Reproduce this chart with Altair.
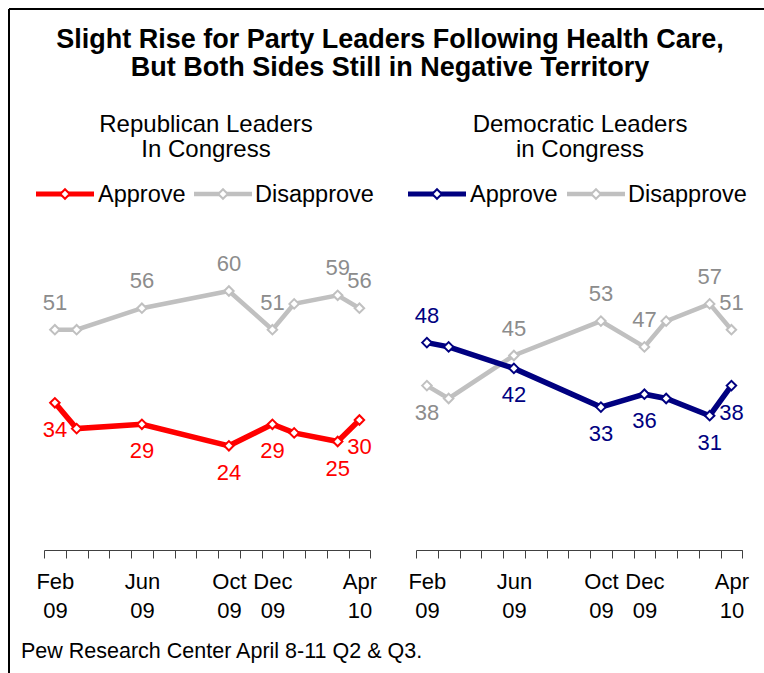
import altair as alt
import pandas as pd

# Survey waves, counted in months from February 2009
survey_month = [0, 1, 4, 8, 10, 11, 13, 14]
# Waves whose values are printed beside the markers
labeled_wave = [True, False, True, True, True, False, True, True]

rep_approve = [34, 28, 29, 24, 29, 27, 25, 30]
rep_disapprove = [51, 51, 56, 60, 51, 57, 59, 56]
dem_approve = [48, 47, 42, 33, 36, 35, 31, 38]
dem_disapprove = [38, 35, 45, 53, 47, 53, 57, 51]

series_names = ["Approve", "Disapprove"]
panel_keys = ["rep", "dem"]
panel_headings = [["Republican Leaders", "In Congress"],
                  ["Democratic Leaders", "in Congress"]]

tick_months = [0, 4, 8, 10, 14]
tick_month_names = ["Feb", "Jun", "Oct", "Dec", "Apr"]
tick_years = ["09", "09", "09", "09", "10"]
month_count = 15

title_lines = ["Slight Rise for Party Leaders Following Health Care,",
               "But Both Sides Still in Negative Territory"]
source_note = "Pew Research Center April 8-11 Q2 & Q3."

# ---------------------------------------------------------------- data table
series_values = {
    ("rep", "Approve"): rep_approve,
    ("rep", "Disapprove"): rep_disapprove,
    ("dem", "Approve"): dem_approve,
    ("dem", "Disapprove"): dem_disapprove,
}
rows = []
for p in panel_keys:
    appr = series_values[(p, "Approve")]
    disp = series_values[(p, "Disapprove")]
    for i, m in enumerate(survey_month):
        for s, v, other in (("Approve", appr[i], disp[i]),
                            ("Disapprove", disp[i], appr[i])):
            rows.append(dict(panel=p, series=s, key=f"{p}-{s}", month=m,
                             value=v, labeled=labeled_wave[i],
                             side="above" if v > other else "below"))
df = pd.DataFrame(rows)

# ---------------------------------------------------------------- styling
FONT = "Liberation Sans"
RED = "#ff0000"
NAVY = "#000080"
LINE_GRAY = "#c0c0c0"
LABEL_GRAY = "#8c8c8c"
AXIS_GRAY = "#404040"

key_domain = ["rep-Approve", "rep-Disapprove", "dem-Approve", "dem-Disapprove"]
line_scale = alt.Scale(domain=key_domain, range=[RED, LINE_GRAY, NAVY, LINE_GRAY])
text_scale = alt.Scale(domain=key_domain, range=[RED, LABEL_GRAY, NAVY, LABEL_GRAY])

panel_ranges = {"rep": [44, 370.3], "dem": [416, 742.3]}
edges = [k - 0.5 for k in range(month_count + 1)]

label_expr = " : ".join(
    f"datum.value == {m - 0.5} ? ['{n}', '{y}']"
    for m, n, y in zip(tick_months, tick_month_names, tick_years)
) + " : ''"

y_scale = alt.Scale(domain=[0, 70], range=[549, 248], nice=False, zero=False)
MARKER_SIZE = 90


def panel(key):
    rng = panel_ranges[key]
    slot = (rng[1] - rng[0]) / month_count
    x = alt.X(
        "month:Q",
        scale=alt.Scale(domain=[-0.5, month_count - 0.5], range=rng,
                        nice=False, zero=False),
        axis=alt.Axis(orient="bottom", values=edges, labelExpr=label_expr,
                      labelOffset=slot / 2, labelFont=FONT, labelFontSize=22,
                      labelColor="black", labelLineHeight=29, labelPadding=13,
                      labelOverlap=False, labelFlush=False, labelBound=False,
                      tickSize=8, tickColor=AXIS_GRAY, tickWidth=1,
                      domainColor=AXIS_GRAY, domainWidth=1, grid=False,
                      offset=-123, title=None),
    )
    y = alt.Y("value:Q", scale=y_scale, axis=None)
    base = alt.Chart(df[df.panel == key]).encode(x=x, y=y)

    layers = []
    for s, width in (("Disapprove", 4.5), ("Approve", 5.5)):
        layers.append(
            base.transform_filter(alt.datum.series == s)
            .mark_line(strokeWidth=width)
            .encode(stroke=alt.Stroke("key:N", scale=line_scale, legend=None))
        )
    layers.append(
        base.mark_point(shape="diamond", filled=True, fill="white",
                        size=MARKER_SIZE, strokeWidth=2, opacity=1)
        .encode(stroke=alt.Stroke("key:N", scale=line_scale, legend=None))
    )
    for side, dy in (("above", -20), ("below", 34)):
        layers.append(
            base.transform_filter(f"datum.labeled && datum.side == '{side}'")
            .mark_text(font=FONT, fontSize=22, baseline="alphabetic", dy=dy)
            .encode(text="value:Q",
                    color=alt.Color("key:N", scale=text_scale, legend=None))
        )
    return alt.layer(*layers)


one_row = pd.DataFrame({"k": [0]})


def note(text, x, y, size, align="center", weight="normal"):
    return alt.Chart(one_row).mark_text(
        font=FONT, fontSize=size, align=align, baseline="alphabetic",
        fontWeight=weight, color="black"
    ).encode(x=alt.value(x), y=alt.value(y), text=alt.value(text))


def legend_key(x0, x1, y, color, width):
    line = alt.Chart(one_row).mark_rule(color=color, strokeWidth=width).encode(
        x=alt.value(x0), x2=alt.value(x1), y=alt.value(y))
    mark = alt.Chart(one_row).mark_point(
        shape="diamond", filled=True, fill="white", stroke=color,
        size=MARKER_SIZE, strokeWidth=2, opacity=1
    ).encode(x=alt.value((x0 + x1) / 2), y=alt.value(y))
    return [line, mark]


annotations = [
    # frame
    alt.Chart(one_row).mark_rule(color="black", strokeWidth=2).encode(
        x=alt.value(9), y=alt.value(9), y2=alt.value(673)),
    alt.Chart(one_row).mark_rule(color="black", strokeWidth=2).encode(
        x=alt.value(9), x2=alt.value(764), y=alt.value(9)),
    # headline
    note(title_lines[0], 390, 48, 27, weight="bold"),
    note(title_lines[1], 390, 76, 27, weight="bold"),
    # panel headings
    note(panel_headings[0][0], 206, 131.5, 24),
    note(panel_headings[0][1], 206, 157, 24),
    note(panel_headings[1][0], 580, 131.5, 24),
    note(panel_headings[1][1], 580, 157, 24),
    # source
    note(source_note, 21, 658, 21.5, align="left"),
]

# legends above each panel
annotations += legend_key(36, 94, 194, RED, 5)
annotations += legend_key(194, 252, 194, LINE_GRAY, 4.5)
annotations += legend_key(408, 466, 194, NAVY, 5)
annotations += legend_key(567, 625, 194, LINE_GRAY, 4.5)
annotations += [
    note(series_names[0], 98, 202, 23.5, align="left"),
    note(series_names[1], 255, 202, 23.5, align="left"),
    note(series_names[0], 470, 202, 23.5, align="left"),
    note(series_names[1], 628, 202, 23.5, align="left"),
]

chart = (
    alt.layer(*annotations, panel("rep"), panel("dem"))
    .resolve_scale(x="independent")
    .properties(width=764, height=673,
                autosize=alt.AutoSizeParams(type="none"), padding=0)
    .configure_view(stroke="transparent")
)

chart.save("out.html", embed_options={"renderer": "svg", "actions": False})
